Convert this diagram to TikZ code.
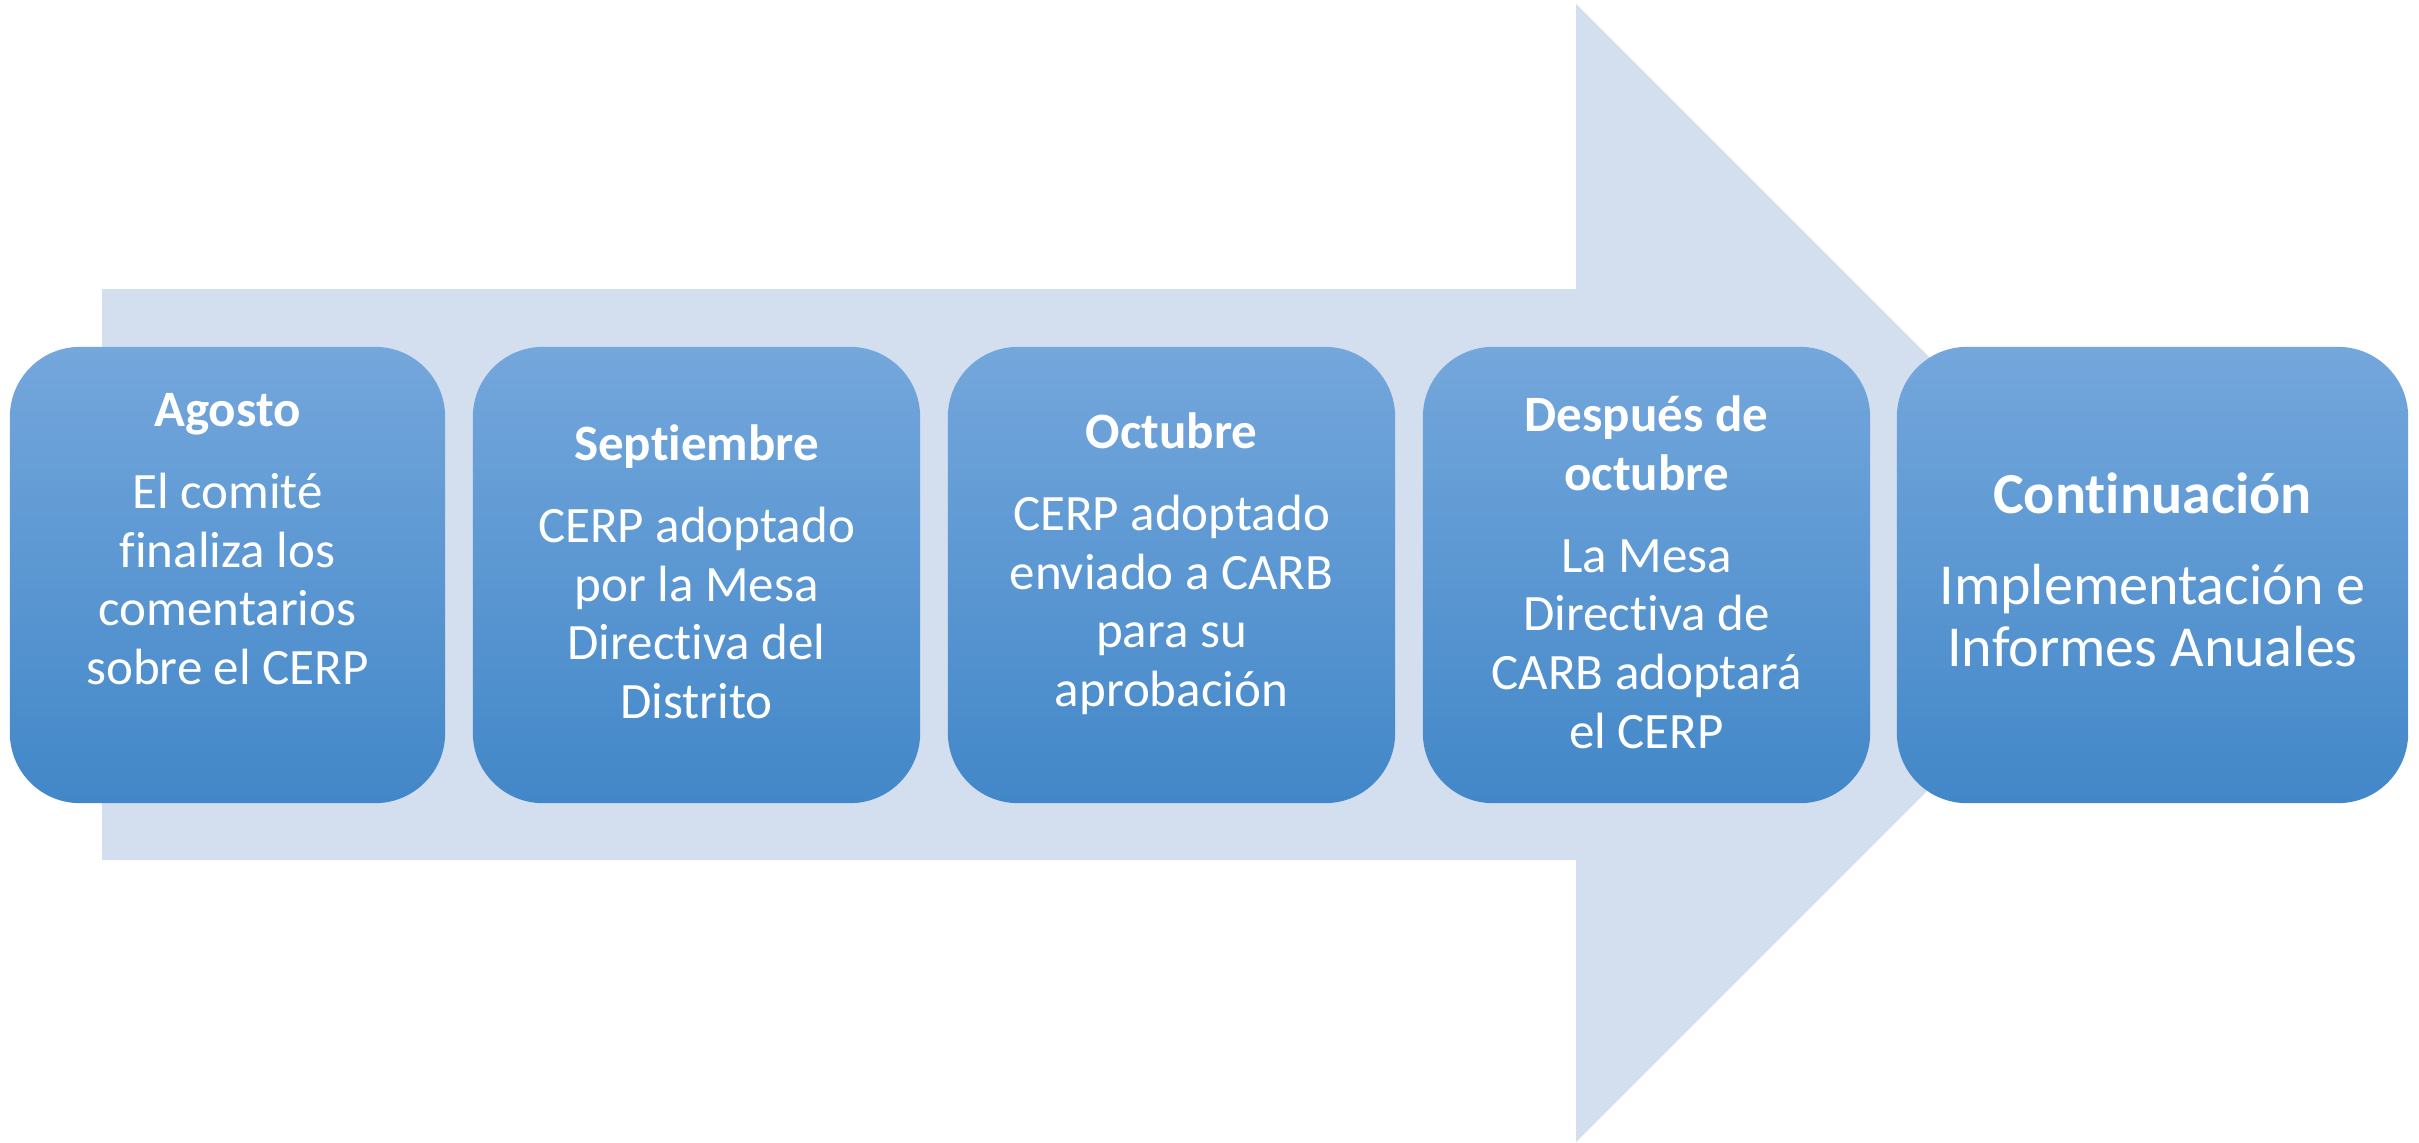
\documentclass[tikz,border=0pt]{standalone}
\usepackage{fontspec}
\setmainfont{Carlito}[Ligatures=CommonOff]
\definecolor{arrowc}{HTML}{D3DEEF}
\definecolor{boxtop}{HTML}{74A7DC}
\definecolor{boxmid}{HTML}{5A9AD8}
\definecolor{boxbot}{HTML}{4287C8}
\newcommand\leadrule{\rule{0pt}{0.5cm}}
\begin{document}
\begin{tikzpicture}[x=0.01cm,y=-0.01cm,
  stepbox/.style={rectangle, rounded corners=0.7cm, top color=boxtop, middle color=boxmid, bottom color=boxbot, draw=none, minimum height=4.56cm, inner sep=0pt},
  steptext/.style={anchor=north, align=center, text=white, inner sep=0pt, font=\fontsize{14.5pt}{16.65pt}\selectfont},
  bigtext/.style={steptext, font=\fontsize{16.5pt}{17.64pt}\selectfont}
]
\useasboundingbox (0,0) rectangle (2419,1142);
\fill[arrowc] (102,289) -- (1576,289) -- (1576,4) -- (2145,573) -- (1576,1142) -- (1576,860) -- (102,860) -- cycle;
\node[stepbox, minimum width=4.35cm] (b1) at (227.5,575) {};
\node[stepbox, minimum width=4.47cm] (b2) at (696.5,575) {};
\node[stepbox, minimum width=4.47cm] (b3) at (1171.5,575) {};
\node[stepbox, minimum width=4.47cm] (b4) at (1646.5,575) {};
\node[stepbox, minimum width=5.11cm] (b5) at (2152.5,575) {};
\node[steptext] (t1) at (227.5,376) {\leadrule\textbf{Agosto}\\[0.235cm] El comité\\ finaliza los\\ comentarios\\ sobre el CERP};
\node[steptext] (t2) at (696.5,410) {\leadrule\textbf{Septiembre}\\[0.235cm] CERP adoptado\\ por la Mesa\\ Directiva del\\ Distrito};
\node[steptext] (t3) at (1171.5,398) {\leadrule\textbf{Octubre}\\[0.235cm] CERP adoptado\\ enviado a CARB\\ para su\\ aprobación};
\node[steptext] (t4) at (1646.5,381) {\leadrule\textbf{Después de}\\ \textbf{octubre}\\[0.235cm] La Mesa\\ Directiva de\\ CARB adoptará\\ el CERP};
\node[bigtext] (t5) at (2152.5,463) {\leadrule\textbf{Continuación}\\[0.29cm] Implementación e\\ Informes Anuales};
\end{tikzpicture}
\end{document}
